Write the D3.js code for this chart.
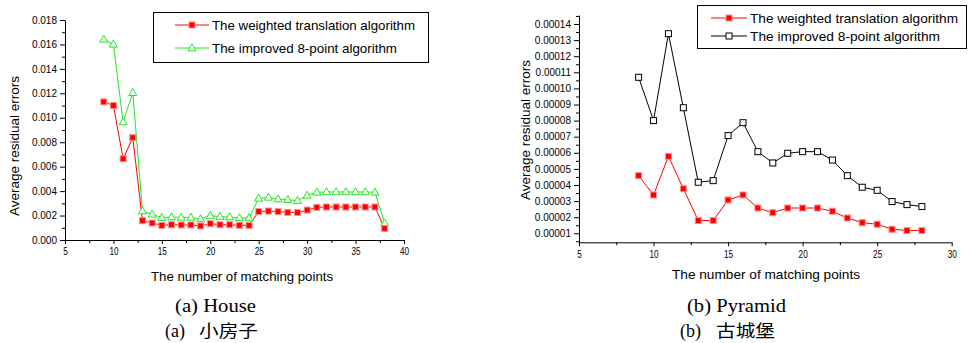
<!DOCTYPE html>
<html><head><meta charset="utf-8">
<script src="https://cdn.jsdelivr.net/npm/d3@7"></script>
<style>
html,body{margin:0;padding:0;background:#fff;}
svg{display:block;}
svg text{fill:#000;}
</style></head>
<body>
<svg id="chart" width="972" height="343" font-family="Liberation Sans,Arial,sans-serif"></svg>
<script>
// ---- data ----
const xHouse = [9,10,11,12,13,14,15,16,17,18,19,20,21,22,23,24,25,26,27,28,29,30,31,32,33,34,35,36,37,38];
const houseWeighted = [0.0113,0.0110,0.00665,0.00837,0.00158,0.00139,0.0012,0.00125,0.00123,0.00123,0.00115,0.00134,0.00125,0.00125,0.0012,0.0012,0.00232,0.00237,0.00232,0.00226,0.00224,0.00245,0.00267,0.0027,0.0027,0.0027,0.0027,0.0027,0.0027,0.00095];
const houseImproved = [0.01642,0.01601,0.00965,0.01205,0.00237,0.0021,0.00183,0.00188,0.00185,0.00185,0.00172,0.0020,0.00191,0.00188,0.0018,0.0018,0.00341,0.00349,0.00335,0.0033,0.00322,0.00365,0.0039,0.00393,0.00393,0.00393,0.00393,0.00393,0.0039,0.00139];
const xPyramid = [9,10,11,12,13,14,15,16,17,18,19,20,21,22,23,24,25,26,27,28];
const pyramidWeighted = [0.0000458,0.0000338,0.0000578,0.0000377,0.0000179,0.0000179,0.0000307,0.0000338,0.0000257,0.0000228,0.0000257,0.0000257,0.0000257,0.0000237,0.0000195,0.0000166,0.0000156,0.0000125,0.0000117,0.0000117];
const pyramidImproved = [0.0001069,0.0000800,0.0001340,0.0000880,0.0000417,0.0000427,0.0000707,0.0000787,0.0000607,0.0000537,0.0000597,0.0000607,0.0000607,0.0000555,0.0000458,0.0000386,0.0000367,0.0000297,0.0000278,0.0000266];
const seriesNames = ["The weighted translation algorithm","The improved 8-point algorithm"];
const xTitle = "The number of matching points";
const yTitle = "Average residual errors";
const houseYTicks = [0,0.002,0.004,0.006,0.008,0.010,0.012,0.014,0.016,0.018];
const pyramidYTicks = [0.00001,0.00002,0.00003,0.00004,0.00005,0.00006,0.00007,0.00008,0.00009,0.00010,0.00011,0.00012,0.00013,0.00014];
const houseXTicks = [5,10,15,20,25,30,35,40];
const pyramidXTicks = [5,10,15,20,25,30];
const captionsEn = ["(a) House","(b) Pyramid"];
const captionsZh = [["(a)","小房子"],["(b)","古城堡"]];

const svg = d3.select("#chart");
const SERIF = "'Liberation Serif','Times New Roman',serif";
const SANS = "'Liberation Sans',Arial,sans-serif";

function drawPanel(o){
  const g = svg.append("g");
  const x = d3.scaleLinear().domain(o.xDomain).range(o.xRange);
  const y = d3.scaleLinear().domain(o.yDomain).range(o.yRange);

  const xMinor = [];
  for(let v=o.xDomain[0]+2.5; v<o.xDomain[1]; v+=5) xMinor.push(v);
  const yMinor = [];
  const step=o.yTicks[1]-o.yTicks[0];
  o.yTicks.forEach((a,i)=>{
    const m=a+step/2; if(y(m)>=o.yRange[1]) yMinor.push(m);
    if(i===0){const m2=a-step/2; if(y(m2)<=o.yRange[0]) yMinor.push(m2);}
  });
  g.append("g").attr("transform",`translate(0,${o.yRange[0]})`)
    .call(d3.axisBottom(x).tickValues(xMinor).tickSize(3).tickFormat(""))
    .call(s=>s.select(".domain").remove());
  g.append("g").attr("transform",`translate(${o.xRange[0]},0)`)
    .call(d3.axisLeft(y).tickValues(yMinor).tickSize(3).tickFormat(""))
    .call(s=>s.select(".domain").remove());

  const xa = g.append("g").attr("transform",`translate(0,${o.yRange[0]})`)
    .call(d3.axisBottom(x).tickValues(o.xTicks).tickSize(4).tickSizeOuter(0).tickPadding(4).tickFormat(d3.format("d")));
  xa.attr("font-family",SANS);
  xa.selectAll("text").attr("font-size",10.5)
    .each(function(){const L=this.getComputedTextLength(); d3.select(this).attr("textLength",L*0.78).attr("lengthAdjust","spacingAndGlyphs");});
  const ya = g.append("g").attr("transform",`translate(${o.xRange[0]},0)`)
    .call(d3.axisLeft(y).tickValues(o.yTicks).tickSize(5).tickSizeOuter(0).tickPadding(3).tickFormat(d3.format(o.yFmt)));
  ya.attr("font-family",SANS);
  ya.selectAll("text").attr("font-size",10);
  g.selectAll(".domain,.tick line").attr("stroke","#000");

  g.append("text").attr("x",o.xTitlePos[0]).attr("y",o.xTitlePos[1]).attr("text-anchor","middle")
    .attr("font-size",13).attr("textLength",o.xTitleLen).attr("lengthAdjust","spacingAndGlyphs").text(xTitle);
  g.append("text").attr("transform",`translate(${o.yTitlePos[0]},${o.yTitlePos[1]}) rotate(-90)`).attr("text-anchor","middle")
    .attr("font-size",13).attr("textLength",o.yTitleLen).attr("lengthAdjust","spacingAndGlyphs").text(yTitle);

  const line = d3.line().x((d,i)=>x(o.xs[i])).y(d=>y(d));
  o.series.forEach(s=>{
    g.append("path").datum(s.values).attr("d",line).attr("fill","none").attr("stroke",s.color).attr("stroke-width",1);
  });
  o.series.forEach(s=>{
    const mg = g.append("g");
    s.values.forEach((v,i)=>drawMarker(mg, s, x(o.xs[i]), y(v)));
  });

  const lg = g.append("g");
  lg.append("rect").attr("x",o.legend.x).attr("y",o.legend.y).attr("width",o.legend.w).attr("height",o.legend.h)
    .attr("fill","#fff").attr("stroke","#000").attr("stroke-width",1);
  o.legendOrder.forEach((si,i)=>{
    const s=o.series[si];
    const cy = o.legend.rows[i];
    lg.append("line").attr("x1",o.legend.lx1).attr("x2",o.legend.lx2).attr("y1",cy).attr("y2",cy).attr("stroke",s.color).attr("stroke-width",1);
    drawMarker(lg, s, (o.legend.lx1+o.legend.lx2)/2, cy);
    lg.append("text").attr("x",o.legend.tx).attr("y",cy+4.5).attr("font-size",13)
      .attr("textLength",o.legend.tl[i]).attr("lengthAdjust","spacingAndGlyphs").text(seriesNames[i]);
  });

  svg.append("text").attr("x",o.cap.enX).attr("y",312)
    .style("font-family",SERIF).attr("font-size",18)
    .attr("textLength",o.cap.enLen).attr("lengthAdjust","spacingAndGlyphs").text(o.capEn);
  svg.append("text").attr("x",o.cap.zhX).attr("y",337).attr("font-size",18)
    .style("font-family",SERIF).text(o.capZh[0]);
  svg.append("text").attr("x",o.cap.cjkX).attr("y",337).attr("font-size",17)
    .style("font-family","'Noto Sans CJK SC',sans-serif")
    .attr("textLength",o.cap.cjkLen).attr("lengthAdjust","spacingAndGlyphs").text(o.capZh[1]);
}

function drawMarker(g, s, cx, cy){
  if(s.marker==="fsquare"){
    g.append("rect").attr("x",cx-s.size/2).attr("y",cy-s.size/2).attr("width",s.size).attr("height",s.size)
      .attr("fill",s.color).attr("stroke","#ff9090").attr("stroke-width",1);
  } else if(s.marker==="osquare"){
    g.append("rect").attr("x",cx-s.size/2).attr("y",cy-s.size/2).attr("width",s.size).attr("height",s.size)
      .attr("fill","#fff").attr("stroke",s.color).attr("stroke-width",1);
  } else if(s.marker==="otri"){
    const h=s.size*0.866, w=s.size;
    g.append("path").attr("d",`M${cx},${cy-h*0.6}L${cx+w/2},${cy+h*0.4}L${cx-w/2},${cy+h*0.4}Z`)
      .attr("fill","#fff").attr("stroke",s.color).attr("stroke-width",1);
  }
}

drawPanel({
  xs:xHouse, xDomain:[5,40], xRange:[65,404], yDomain:[0,0.018], yRange:[240,20],
  xTicks:houseXTicks, yTicks:houseYTicks, yFmt:".3f",
  xTitlePos:[242,281], xTitleLen:182, yTitlePos:[19,146], yTitleLen:140,
  series:[
    {values:houseImproved, color:"#1ee81e", marker:"otri", size:8},
    {values:houseWeighted, color:"#ff0000", marker:"fsquare", size:6}
  ],
  legendOrder:[1,0],
  legend:{x:153.5,y:12.5,w:275,h:50,rows:[25,48],lx1:175,lx2:209,tx:212,tl:[203,185]},
  capEn:captionsEn[0], capZh:captionsZh[0],
  cap:{enX:175,enLen:81,zhX:165,cjkX:199,cjkLen:59}
});

drawPanel({
  xs:xPyramid, xDomain:[5,30], xRange:[579,951.7], yDomain:[0.0000044,0.0001456], yRange:[242.3,15],
  xTicks:pyramidXTicks, yTicks:pyramidYTicks, yFmt:".5f",
  xTitlePos:[766,279], xTitleLen:188, yTitlePos:[530,130], yTitleLen:140,
  series:[
    {values:pyramidWeighted, color:"#ff0000", marker:"fsquare", size:6},
    {values:pyramidImproved, color:"#000000", marker:"osquare", size:6}
  ],
  legendOrder:[0,1],
  legend:{x:697.5,y:5.5,w:269,h:43,rows:[18,36],lx1:711,lx2:747,tx:750,tl:[208,190]},
  capEn:captionsEn[1], capZh:captionsZh[1],
  cap:{enX:687,enLen:99,zhX:680,cjkX:716,cjkLen:59}
});
</script>
</body></html>
